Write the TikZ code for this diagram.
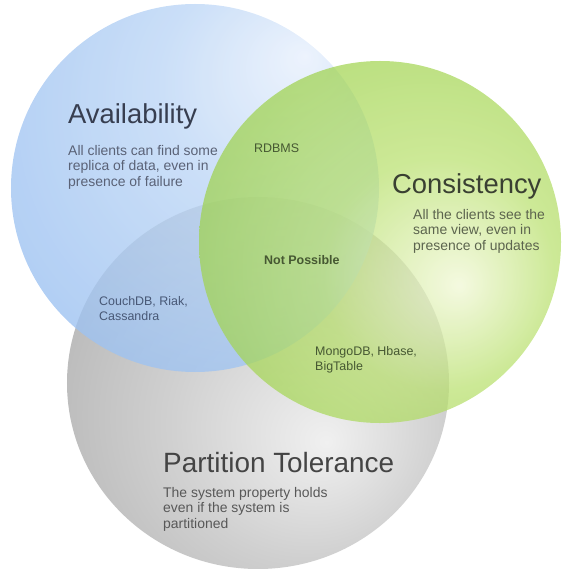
\documentclass[tikz,border=0pt]{standalone}
\usepackage{fontspec}
\setmainfont{Liberation Sans}
\definecolor{bluein}{RGB}{232,240,252}
\definecolor{bluemid}{RGB}{190,215,246}
\definecolor{blueout}{RGB}{105,160,232}
\definecolor{greenin}{RGB}{240,247,212}
\definecolor{greenmid}{RGB}{185,224,110}
\definecolor{greenout}{RGB}{108,184,14}
\definecolor{grayin}{RGB}{240,240,240}
\definecolor{graymid}{RGB}{208,208,208}
\definecolor{grayout}{RGB}{142,142,142}
\definecolor{atitle}{RGB}{55,62,80}
\definecolor{abody}{RGB}{90,98,118}
\definecolor{ctitle}{RGB}{58,64,50}
\definecolor{cbody}{RGB}{92,100,78}
\definecolor{ptitle}{RGB}{68,68,68}
\definecolor{pbody}{RGB}{88,88,88}
\definecolor{lblblue}{RGB}{72,88,118}
\definecolor{lblgreen}{RGB}{70,88,50}
\pgfdeclareradialshading{blueshade}{\pgfpoint{15bp}{18bp}}{color(0bp)=(bluein); color(16bp)=(bluemid); color(70bp)=(blueout)}
\pgfdeclareradialshading{greenshade}{\pgfpoint{11bp}{-6bp}}{color(0bp)=(greenin); color(16bp)=(greenmid); color(60bp)=(greenout)}
\pgfdeclareradialshading{grayshade}{\pgfpoint{9bp}{-8bp}}{color(0bp)=(grayin); color(18bp)=(graymid); color(60bp)=(grayout)}
\tikzset{
  title/.style={anchor=base west, inner sep=0pt, font=\fontsize{27.5}{32}\selectfont},
  body/.style={anchor=base west, inner sep=0pt, align=left, font=\fontsize{14}{15.5}\selectfont},
  lbl/.style={anchor=base west, inner sep=0pt, align=left, font=\fontsize{12.5}{15}\selectfont},
}
\begin{document}
\begin{tikzpicture}[x=1bp, y=-1bp]
\useasboundingbox (0,0) rectangle (563,569);
% circles
\shade[shading=grayshade] (258,383) ellipse [x radius=191bp, y radius=186bp];
\shade[shading=blueshade, fill opacity=0.8] (195,188) circle [radius=184bp];
\shade[shading=greenshade, fill opacity=0.72] (380,242) circle [radius=181bp];
% Availability
\node[title, text=atitle] (atitle) at (68,124) {Availability};
\node[body, text=abody] (abody) at (68,186) {All clients can find some\\replica of data, even in\\presence of failure};
% Consistency
\node[title, text=ctitle] (ctitle) at (392,193) {Consistency};
\node[body, text=cbody] (cbody) at (413,250) {All the clients see the\\same view, even in\\presence of updates};
% Partition Tolerance
\node[title, text=ptitle, font=\fontsize{28}{32}\selectfont] (ptitle) at (163,472) {Partition Tolerance};
\node[body, text=pbody] (pbody) at (163,528) {The system property holds\\even if the system is\\partitioned};
% intersections
\node[lbl, text=lblgreen] (rdbms) at (254,153) {RDBMS};
\node[lbl, text=lblgreen, font=\fontsize{12.5}{15}\selectfont\bfseries] (np) at (264,264) {Not Possible};
\node[lbl, text=lblblue] (couch) at (99,320) {CouchDB, Riak,\\Cassandra};
\node[lbl, text=lblgreen] (mongo) at (315,370) {MongoDB, Hbase,\\BigTable};
\end{tikzpicture}
\end{document}
